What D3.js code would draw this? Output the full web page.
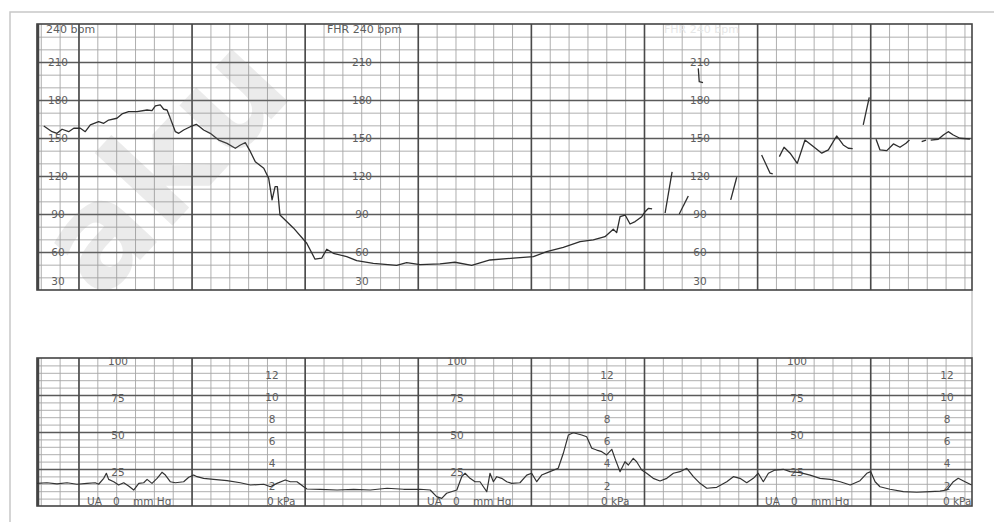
<!DOCTYPE html>
<html>
<head>
<meta charset="utf-8">
<script src="https://cdn.jsdelivr.net/npm/d3@7"></script>
<style>
  body { margin: 0; background: #fff; }
  svg { display: block; font-family: "DejaVu Sans", sans-serif; }
</style>
</head>
<body>
<div id="ctg"></div>
<script>
// fetal heart rate trace: [seconds, bpm]
const fhrMain = [
  [41.6,159.5],[46.0,155.0],[48.6,153.7],[51.3,156.9],[54.8,155.0],[57.5,157.7],[61.0,157.7],[63.6,155.0],
  [66.3,160.3],[70.7,162.9],[73.4,161.6],[76.0,164.2],[80.4,165.6],[83.1,169.0],[86.6,170.8],[91.1,170.8],
  [96.4,172.1],[99.0,171.6],[100.8,175.3],[103.4,176.1],[105.2,172.7],[107.0,172.1],[108.7,165.6],[111.4,155.0],
  [113.2,153.7],[115.8,156.3],[119.3,158.9],[122.5,160.8],[124.6,158.5],[126.4,156.3],[129.9,153.7],[134.4,148.4],
  [138.8,145.8],[143.2,141.9],[145.9,144.5],[148.5,146.3],[151.2,139.2],[153.8,131.3],[158.3,126.1],[160.9,118.2],
  [162.7,101.1],[164.3,111.6],[165.5,111.6],[166.9,89.2],[174.0,79.0],[181.1,66.9],[185.5,54.3],[189.0,55.1],
  [191.7,62.2],[195.2,59.0],[202.3,56.3],[207.6,53.2],[216.4,51.1],[228.8,49.5],[234.1,51.6],[241.2,50.0],
  [251.8,50.6],[259.7,51.9],[268.6,49.5],[278.3,53.7],[290.7,55.1],[301.3,56.3],[308.4,60.3],[317.2,63.7],
  [326.1,68.2],[333.1,69.5],[339.3,72.1],[343.7,78.0],[345.5,75.3],[347.3,87.9],[350.0,89.2],[352.6,82.1],
  [355.3,84.0],[358.8,87.9],[360.6,91.8],[362.4,94.5],[364.3,94.0]
];

// broken signal after the main trace
const fhrFragments = [
  [[371.2,90.8],[374.9,123.2]],
  [[378.7,90.0],[383.5,104.2]],
  [[388.8,205.0],[389.3,194.5],[391.3,193.7]],
  [[406.0,101.1],[409.2,119.0]],
  [[422.4,136.6],[426.9,122.2],[428.3,121.6]],
  [[431.8,135.3],[434.3,142.7],[437.5,138.0],[441.3,130.0],[445.4,148.4],[449.8,143.2],[454.3,138.0],
   [457.8,140.6],[462.2,151.6],[465.7,144.5],[468.4,141.9],[470.7,141.6]],
  [[476.3,160.3],[479.5,182.1]],
  [[483.1,149.0],[485.2,140.6],[488.8,140.0],[492.3,145.3],[495.8,142.7],[499.0,145.8],[500.8,148.4]],
  [[507.3,147.1],[509.6,148.4]],
  [[512.1,148.4],[516.1,149.0],[518.8,152.4],[521.4,155.0],[524.1,152.4],[527.6,149.8],[532.9,149.2]]
];

// uterine activity: [seconds, mmHg]
const uaTrace = [
  [38.0,15.3],[43.3,15.7],[48.6,14.9],[53.9,15.7],[59.2,14.7],[64.5,15.3],[68.9,15.7],[70.7,14.7],
  [73.4,18.7],[74.8,22.1],[76.0,18.0],[78.7,16.4],[81.3,14.2],[84.0,15.7],[86.6,13.5],[89.3,10.8],
  [92.0,15.3],[94.6,15.7],[96.4,18.0],[99.0,15.3],[101.7,18.7],[104.3,22.8],[106.1,20.9],[108.7,16.4],
  [111.4,15.7],[115.8,16.4],[118.5,19.4],[121.1,20.9],[122.9,19.8],[126.4,18.7],[131.7,18.0],[138.8,17.1],
  [145.9,15.7],[151.2,14.2],[158.3,14.7],[161.8,13.0],[165.3,15.3],[169.7,17.6],[172.4,16.4],[175.9,16.4],
  [179.5,13.0],[181.2,11.5],[188.3,11.3],[197.2,10.8],[206.0,11.3],[214.8,10.8],[223.7,12.0],[232.5,11.3],
  [241.3,11.3],[246.6,10.8],[250.0,6.3],[252.7,5.2],[255.3,8.6],[260.7,10.8],[263.3,19.8],[265.1,22.1],
  [267.7,18.7],[270.4,16.4],[273.0,16.4],[274.8,13.0],[276.6,9.7],[278.3,22.1],[280.1,16.4],[281.9,19.8],
  [284.5,18.7],[287.2,16.4],[289.8,15.3],[294.2,15.7],[297.8,20.9],[300.4,22.1],[303.1,16.4],[305.7,20.9],
  [310.1,23.2],[314.5,25.5],[317.2,35.6],[319.9,48.0],[322.5,49.5],[327.0,48.0],[329.6,46.8],[332.3,39.0],
  [334.9,37.8],[337.6,36.7],[340.2,34.5],[342.9,38.3],[344.6,32.2],[347.3,23.2],[349.9,29.9],[351.7,27.7],
  [354.3,32.2],[356.1,29.9],[358.8,24.3],[361.4,22.1],[364.9,18.7],[368.5,16.9],[372.1,18.7],[375.6,22.1],
  [379.1,23.2],[382.7,25.5],[386.2,19.8],[389.7,15.3],[393.3,12.0],[398.6,12.6],[403.9,16.4],[407.4,19.8],
  [410.9,18.7],[414.5,15.7],[418.0,18.7],[420.6,22.1],[423.3,16.4],[426.0,22.1],[429.5,24.3],[433.9,24.8],
  [437.5,23.2],[442.8,22.5],[448.1,20.9],[453.4,18.7],[458.8,18.0],[464.1,16.4],[469.4,14.2],[474.6,17.1],
  [478.2,22.1],[480.3,23.2],[482.6,16.4],[485.2,13.0],[490.5,11.3],[497.6,9.7],[504.7,9.3],[511.7,9.7],
  [517.0,10.1],[520.6,10.8],[524.1,16.4],[526.7,18.7],[530.3,16.4],[533.8,14.2]
];

const fhrTicks = [210, 180, 150, 120, 90, 60, 30];
const uaTicks = [100, 75, 50, 25];
const kpaTicks = [12, 10, 8, 6, 4, 2];

const W = 994, H = 522;
const left = 37, right = 972;
const fhrTop = 24, fhrBottom = 290;
const uaTop = 358, uaBottom = 506;

const svg = d3.select("#ctg").append("svg")
  .attr("width", W).attr("height", H);

svg.append("rect").attr("width", W).attr("height", H).attr("fill", "#fff");

// time scale, seconds; one major line per minute
const x = d3.scaleLinear().domain([38, 534]).range([left, right]);
const yF = d3.scaleLinear().domain([30, 240]).range([fhrBottom, fhrTop]);
const yU = d3.scaleLinear().domain([0, 100]).range([uaBottom, uaTop]);
const yK = d3.scaleLinear().domain([0, 100 / 7.5]).range([uaBottom, uaTop]);

const minorTimes = d3.range(40, 531, 10);
const majorTimes = d3.range(60, 481, 60);

// page frame
svg.append("path")
  .attr("d", `M10,${H} V12 H${W}`)
  .attr("fill", "none").attr("stroke", "#c8c8c8").attr("stroke-width", 1.5);
svg.append("line")
  .attr("x1", right).attr("x2", right).attr("y1", fhrBottom).attr("y2", uaTop)
  .attr("stroke", "#aaa");

function drawGrid(y, minorVals, majorVals, y0, y1) {
  const g = svg.append("g");
  const style = (sel, col, w) => sel
    .call(a => a.select(".domain").remove())
    .call(a => a.selectAll("line").attr("stroke", col).attr("stroke-width", w));

  g.append("g").attr("transform", `translate(${left},0)`)
    .call(d3.axisLeft(y).tickValues(minorVals).tickSize(-(right - left)).tickFormat(""))
    .call(a => style(a, "#a6a6a6", 0.9));
  g.append("g").attr("transform", `translate(0,${y1})`)
    .call(d3.axisBottom(x).tickValues(minorTimes).tickSize(-(y1 - y0)).tickFormat(""))
    .call(a => style(a, "#a6a6a6", 0.9));

  g.append("g").attr("transform", `translate(${left},0)`)
    .call(d3.axisLeft(y).tickValues(majorVals).tickSize(-(right - left)).tickFormat(""))
    .call(a => style(a, "#5a5a5a", 1.4));
  g.append("g").attr("transform", `translate(0,${y1})`)
    .call(d3.axisBottom(x).tickValues(majorTimes).tickSize(-(y1 - y0)).tickFormat(""))
    .call(a => style(a, "#4a4a4a", 1.6));

  g.append("rect")
    .attr("x", left).attr("y", y0)
    .attr("width", right - left).attr("height", y1 - y0)
    .attr("fill", "none").attr("stroke", "#444").attr("stroke-width", 1.6);
  g.append("line")
    .attr("x1", left + 1).attr("x2", left + 1).attr("y1", y0).attr("y2", y1)
    .attr("stroke", "#444").attr("stroke-width", 2.5);
}

drawGrid(yF, d3.range(40, 240, 10), [60, 90, 120, 150, 180, 210], fhrTop, fhrBottom);
drawGrid(yU, d3.range(5, 100, 5), [25, 50, 75], uaTop, uaBottom);

// scale labels
const labelColor = "#5e5e5e";
const fhrLabelX = [58, 362, 700];
fhrLabelX.forEach(lx => {
  svg.append("g").selectAll("text").data(fhrTicks).join("text")
    .attr("x", lx)
    .attr("y", d => d === 30 ? yF(d) - 9 : yF(d))
    .attr("dy", "0.36em")
    .attr("text-anchor", "middle")
    .attr("font-size", 10.5)
    .attr("fill", labelColor)
    .text(d => d);
});

svg.append("text").attr("x", 46).attr("y", 33)
  .attr("font-size", 11).attr("fill", labelColor).text("240 bpm");
svg.append("text").attr("x", 327).attr("y", 33)
  .attr("font-size", 11).attr("fill", labelColor).text("FHR 240 bpm");
svg.append("text").attr("x", 664).attr("y", 33)
  .attr("font-size", 11).attr("fill", "#e6e6e6").text("FHR 240 bpm");

const uaLabelX = [118, 457, 797];
const kpaLabelX = [272, 607, 947];
const captionX = [87, 427, 765];
const kpaCaptionX = [267, 601, 943];

uaLabelX.forEach(lx => {
  svg.append("g").selectAll("text").data(uaTicks).join("text")
    .attr("x", lx).attr("y", d => yU(d) + 3)
    .attr("dy", "0.36em").attr("text-anchor", "middle")
    .attr("font-size", 10.5).attr("fill", labelColor)
    .text(d => d);
});
kpaLabelX.forEach(lx => {
  svg.append("g").selectAll("text").data(kpaTicks).join("text")
    .attr("x", lx).attr("y", d => yK(d) + 2)
    .attr("dy", "0.36em").attr("text-anchor", "middle")
    .attr("font-size", 10.5).attr("fill", labelColor)
    .text(d => d);
});
captionX.forEach(cx => {
  const t = svg.append("text").attr("y", uaBottom - 1)
    .attr("font-size", 10.5).attr("fill", labelColor);
  t.append("tspan").attr("x", cx).text("UA");
  t.append("tspan").attr("x", cx + 26).text("0");
  t.append("tspan").attr("x", cx + 46).text("mm Hg");
});
kpaCaptionX.forEach(cx => {
  svg.append("text").attr("x", cx).attr("y", uaBottom - 1)
    .attr("font-size", 10.5).attr("fill", labelColor).text("0 kPa");
});

// traces
const lineF = d3.line().x(d => x(d[0])).y(d => yF(d[1]));
const lineU = d3.line().x(d => x(d[0])).y(d => yU(d[1]));

svg.append("g").selectAll("path").data([fhrMain, ...fhrFragments]).join("path")
  .attr("d", lineF)
  .attr("fill", "none").attr("stroke", "#2e2e2e").attr("stroke-width", 1.3)
  .attr("stroke-linejoin", "round");

svg.append("path").datum(uaTrace)
  .attr("d", lineU)
  .attr("fill", "none").attr("stroke", "#333").attr("stroke-width", 1.2)
  .attr("stroke-linejoin", "round");

// faint watermark over the scan
svg.append("text")
  .attr("transform", "translate(100,303) rotate(-47)")
  .attr("font-size", 140).attr("font-weight", "bold")
  .attr("fill", "#888").attr("fill-opacity", 0.17)
  .text("aku");
</script>
</body>
</html>
